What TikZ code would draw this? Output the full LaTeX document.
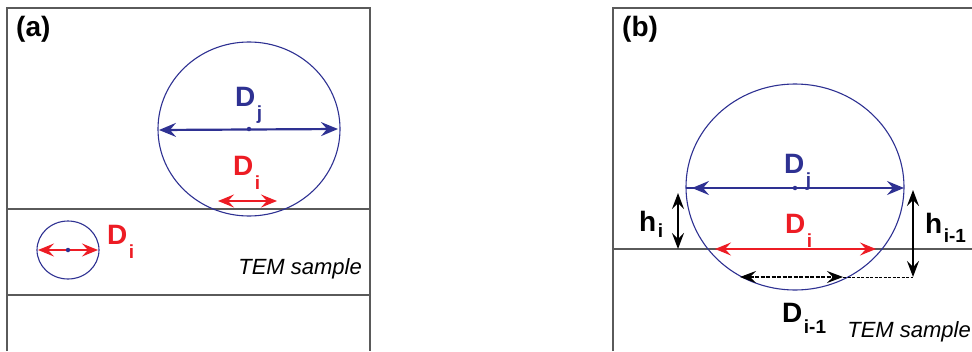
\documentclass[tikz,border=0pt]{standalone}
\usepackage{fontspec}
\setmainfont{Liberation Sans}
\usetikzlibrary{arrows.meta}
\definecolor{pblue}{RGB}{46,49,146}
\definecolor{pred}{RGB}{237,28,36}
\definecolor{framegray}{RGB}{90,90,90}
% label with a lowered subscript
\newcommand{\dimlab}[3][12pt]{#2\hspace{1.5pt}\raisebox{-#1}{\fontsize{19}{19}\selectfont #3}}

\begin{document}
\begin{tikzpicture}[x=1pt, y=-1pt,
  frameline/.style={draw=framegray, line width=1.3pt},
  particle/.style={draw=pblue, line width=1.1pt},
  dimj/.style={pblue, line width=2.2pt, {Stealth[length=17pt,width=14pt,inset=6pt]}-{Stealth[length=17pt,width=14pt,inset=6pt]}},
  dimi/.style={pred, line width=1.8pt, {Stealth[length=16pt,width=13pt,inset=6pt]}-{Stealth[length=16pt,width=13pt,inset=6pt]}},
  dimh/.style={black, line width=1.5pt, {Stealth[length=16pt,width=12pt,inset=6pt]}-{Stealth[length=16pt,width=12pt,inset=6pt]}},
  lbl/.style={anchor=base west, inner sep=0pt, font=\fontsize{28}{28}\selectfont\bfseries},
  tem/.style={anchor=base east, inner sep=0pt, font=\fontsize{22}{22}\selectfont\itshape},
  cdot/.style={fill=pblue, circle, inner sep=0pt, minimum size=4.5pt}]
  \useasboundingbox (0,0) rectangle (972,351);

  % Panel (a): frame and sample slab
  \draw[frameline] (7,351) -- (7,8) -- (370,8) -- (370,351);
  \draw[frameline] (7,209) -- (370,209);
  \draw[frameline] (7,295) -- (370,295);
  \node[lbl] (pa) at (16,36) {(a)};

  % big particle
  \draw[particle] (249,129) ellipse [x radius=91, y radius=87];
  \node[cdot] (cj) at (249,129) {};
  \coordinate (ajl) at (159,130);
  \coordinate (ajr) at (338,129);
  \draw[dimj] (ajl) -- (ajr);
  \node[lbl, text=pblue] (aDj) at (235,106) {\dimlab[13pt]{D}{j}};
  \coordinate (ail) at (218,201);
  \coordinate (air) at (277,201);
  \draw[dimi] (ail) -- (air);
  \node[lbl, text=pred] (aDi) at (233,175) {\dimlab[14pt]{D}{i}};

  % small particle
  \draw[particle] (68,250) ellipse [x radius=31, y radius=29];
  \coordinate (asl) at (38,250);
  \coordinate (asr) at (98,250);
  \draw[dimi] (asl) -- (asr);
  \node[cdot] (ci) at (68,250) {};
  \node[lbl, text=pred] (aDs) at (107,244) {\dimlab[14pt]{D}{i}};
  \node[tem] (atem) at (362,274) {TEM sample};

  % Panel (b): frame and sample surface
  \draw[frameline] (613,351) -- (613,8) -- (972,8);
  \draw[frameline] (613,249) -- (972,249);
  \node[lbl] (pb) at (622,36) {(b)};

  \draw[particle] (795,187) ellipse [x radius=109, y radius=103];
  \draw[pblue, line width=1.6pt] (686,188) -- (694,188);
  \coordinate (bjl) at (692,188);
  \coordinate (bjr) at (904,188);
  \draw[dimj] (bjl) -- (bjr);
  \node[cdot] (bc) at (795,188) {};
  \node[lbl, text=pblue] (bDj) at (784,173) {\dimlab[13pt]{D}{j}};

  \coordinate (bil) at (715,249);
  \coordinate (bir) at (876,249);
  \draw[dimi] (bil) -- (bir);
  \node[lbl, text=pred] (bDi) at (785,233) {\dimlab[14pt]{D}{i}};

  % previous section
  \coordinate (bpl) at (740,277);
  \coordinate (bpr) at (843,277);
  \coordinate (bhb) at (913,277);
  \draw[black, line width=0.7pt, dash pattern=on 3pt off 1.5pt] (bpr) -- (bhb);
  \draw[dimh, line width=1.1pt, dash pattern=on 4pt off 1.5pt] (bpl) -- (bpr);
  \node[lbl] (bDp) at (782,322) {\dimlab[11pt]{D}{i-1}};

  % heights
  \coordinate (bht) at (678,193);
  \coordinate (bhs) at (678,249);
  \draw[dimh] (bht) -- (bhs);
  \node[lbl] (bh) at (639,231) {\dimlab[6pt]{h}{i}};
  \coordinate (bh1t) at (913,190);
  \draw[dimh] (bh1t) -- (bhb);
  \node[lbl] (bh1) at (925,233) {\dimlab[9pt]{h}{i-1}};
  \node[tem] (btem) at (971,337) {TEM sample};
\end{tikzpicture}
\end{document}
